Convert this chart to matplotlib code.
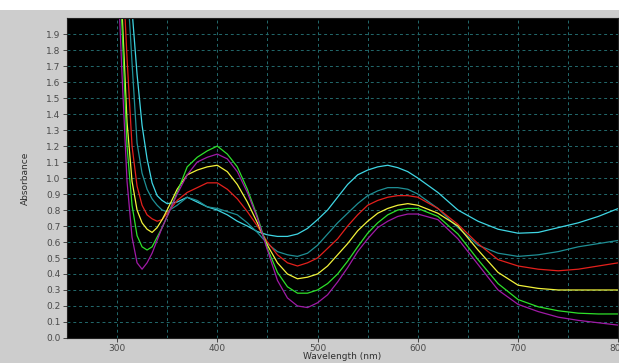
import numpy as np
import matplotlib.pyplot as plt
from matplotlib.patches import Rectangle

wl = [300, 305, 310, 315, 320, 325, 330, 335, 340, 345, 350, 360, 370, 380, 390,
      400, 410, 420, 430, 440, 450, 460, 470, 480, 490, 500, 510, 520, 530, 540,
      550, 560, 570, 580, 590, 600, 620, 640, 660, 680, 700, 720, 740, 760, 780, 800]

cyan = [2.6, 2.4, 2.2, 2.05, 1.65, 1.33, 1.12, 0.97, 0.89, 0.86, 0.84, 0.85, 0.88, 0.85, 0.82,
        0.80, 0.77, 0.73, 0.70, 0.665, 0.645, 0.635, 0.635, 0.65, 0.685, 0.74, 0.80, 0.88, 0.96, 1.02,
        1.05, 1.07, 1.08, 1.065, 1.04, 1.0, 0.91, 0.80, 0.73, 0.68, 0.655, 0.66, 0.69, 0.72, 0.76, 0.81]

teal = [2.6, 2.45, 2.25, 1.72, 1.22, 1.03, 0.93, 0.87, 0.83, 0.80, 0.79, 0.83, 0.88, 0.86, 0.82,
        0.81, 0.79, 0.77, 0.72, 0.66, 0.59, 0.54, 0.52, 0.51, 0.53, 0.58, 0.65, 0.72, 0.78, 0.84,
        0.89, 0.92, 0.94, 0.94, 0.93, 0.90, 0.81, 0.69, 0.58, 0.53, 0.51, 0.52, 0.54, 0.57, 0.59, 0.61]

red = [2.6, 2.4, 1.75, 1.2, 0.95, 0.83, 0.77, 0.745, 0.73, 0.74, 0.78, 0.86, 0.91, 0.94, 0.97,
       0.97, 0.93, 0.87, 0.79, 0.70, 0.60, 0.52, 0.47, 0.45, 0.47, 0.50, 0.56, 0.62, 0.70, 0.77,
       0.83, 0.86, 0.88, 0.89, 0.89, 0.88, 0.81, 0.71, 0.59, 0.49, 0.45, 0.43, 0.42, 0.43, 0.45, 0.47]

yellow = [2.5, 2.05, 1.35, 0.98, 0.80, 0.72, 0.68, 0.66, 0.69, 0.74, 0.80, 0.93, 1.02, 1.05, 1.07,
          1.08, 1.04, 0.96, 0.85, 0.72, 0.58, 0.47, 0.40, 0.37, 0.38, 0.40, 0.45, 0.52, 0.59, 0.67,
          0.73, 0.78, 0.81, 0.83, 0.84, 0.83, 0.78, 0.70, 0.55, 0.41, 0.33, 0.31, 0.30, 0.30, 0.30, 0.30]

green = [2.5, 1.95, 1.2, 0.83, 0.64, 0.57, 0.55, 0.57, 0.63, 0.69, 0.76, 0.91, 1.07, 1.13, 1.17,
         1.20, 1.15, 1.07, 0.93, 0.76, 0.56, 0.41, 0.32, 0.28, 0.28, 0.30, 0.34, 0.40, 0.48, 0.57,
         0.655, 0.72, 0.77, 0.80, 0.81, 0.81, 0.76, 0.65, 0.49, 0.34, 0.24, 0.195, 0.17, 0.155, 0.15, 0.15]

purple = [2.4, 1.65, 0.98, 0.63, 0.47, 0.43, 0.47, 0.53, 0.61, 0.69, 0.76, 0.90, 1.02, 1.10, 1.13,
          1.15, 1.12, 1.04, 0.91, 0.75, 0.55, 0.36, 0.25, 0.20, 0.19, 0.22, 0.27, 0.35, 0.44, 0.54,
          0.62, 0.69, 0.73, 0.76, 0.775, 0.775, 0.74, 0.62, 0.46, 0.30, 0.21, 0.165, 0.13, 0.11, 0.095, 0.08]

series = [(cyan, '#3fd6e4'), (teal, '#1f8f95'), (red, '#e4201c'),
          (yellow, '#f2f23a'), (green, '#2ee02a'), (purple, '#a01aa6')]

fig = plt.figure(figsize=(6.19, 3.63), dpi=100, facecolor='#cdcdcd')
fig.patches.append(Rectangle((0, 0.972), 1, 0.03, transform=fig.transFigure,
                             facecolor='white', edgecolor='none'))

ax = fig.add_axes([0.108, 0.069, 0.891, 0.881])
ax.set_facecolor('black')
for s, c in series:
    ax.plot(wl, s, color=c, lw=0.9)

ax.set_xlim(250, 800)
ax.set_ylim(0, 2.0)
ax.set_xticks(np.arange(300, 801, 100))
ax.set_xticks(np.arange(250, 801, 50), minor=True)
ax.set_yticks(np.arange(0, 1.95, 0.1))
ax.set_yticklabels(['%.1f' % v for v in np.arange(0, 1.95, 0.1)])
ax.grid(True, which='both', color='#236a6d', ls=(0, (3, 3)), lw=0.7)
ax.tick_params(axis='x', which='minor', length=0)
ax.tick_params(axis='both', which='major', labelsize=6.5, labelcolor='#4a4a4a',
               color='#303030', length=3, width=0.6, pad=1.5)
for sp in ax.spines.values():
    sp.set_color('#202020')

ax.set_xlabel('Wavelength (nm)', fontsize=6.5, color='#303030', labelpad=-1)
ax.set_ylabel('Absorbance', fontsize=6.5, color='#303030', labelpad=12)

plt.savefig('out.png', dpi=100, facecolor=fig.get_facecolor())
plt.close(fig)
